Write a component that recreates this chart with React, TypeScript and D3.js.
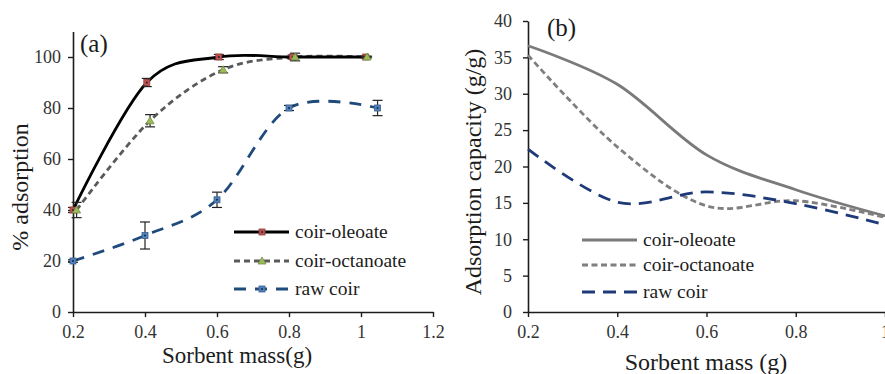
import React, { useEffect, useRef } from "react";
import * as d3 from "d3";

// panel (a): % adsorption vs sorbent mass, with error bars
const A_OLEOATE_X = [0.2, 0.405, 0.605, 0.81, 1.013];
const A_OLEOATE_Y = [40, 90, 100, 100, 100];
const A_OLEOATE_ERR = [1, 1.6, 1, 0.8, 0.3];

const A_OCTANOATE_X = [0.21, 0.414, 0.617, 0.817, 1.017];
const A_OCTANOATE_Y = [40, 75, 95, 100, 100];
const A_OCTANOATE_ERR = [3, 2.4, 1.2, 1.5, 0.3];

const A_RAW_X = [0.2, 0.4, 0.6, 0.8, 1.046];
const A_RAW_Y = [20, 30, 44, 80, 80];
const A_RAW_ERR = [0.5, 5.3, 3, 1, 3];

const A_X_TICKS = [0.2, 0.4, 0.6, 0.8, 1, 1.2];
const A_Y_TICKS = [0, 20, 40, 60, 80, 100];

// panel (b): adsorption capacity vs sorbent mass
const B_X = [0.2, 0.4, 0.6, 0.8, 1.0];
const B_OLEOATE = [36.6, 31.3, 21.6, 16.8, 13.2];
const B_OCTANOATE = [35.3, 22.7, 14.6, 15.3, 13.0];
const B_RAW = [22.4, 15.1, 16.5, 14.9, 12.0];

const B_X_TICKS = [0.2, 0.4, 0.6, 0.8, 1];
const B_Y_TICKS = [0, 5, 10, 15, 20, 25, 30, 35, 40];

const SERIES_NAMES = ["coir-oleoate", "coir-octanoate", "raw coir"];

const FONT = "Liberation Serif";
const INK = "#1c1c1c";

const App = () => {
  const ref = useRef<SVGSVGElement>(null);

  useEffect(() => {
    const svg = d3.select(ref.current);
    svg.selectAll("*").remove();

    const curve = d3.curveCardinal.tension(0);

    const styleAxis = (g: any) => {
      g.attr("font-family", null).attr("font-size", null);
      g.select(".domain").attr("stroke", INK).attr("stroke-width", 1.6);
      g.selectAll(".tick line").attr("stroke", INK).attr("stroke-width", 1.4);
      g.selectAll(".tick text")
        .attr("font-size", 18)
        .attr("fill", "#333");
    };

    // ---------- panel (a) ----------
    const xa = d3.scaleLinear().domain([0.2, 1.2]).range([73, 433]);
    const ya = d3.scaleLinear().domain([0, 110]).range([312, 31.5]);

    const pa = svg.append("g");

    pa.append("g")
      .attr("transform", `translate(0,${ya(0)})`)
      .call(
        d3.axisBottom(xa).tickValues(A_X_TICKS).tickSizeInner(5).tickSizeOuter(0)
          .tickPadding(8).tickFormat((d: any) => String(d))
      )
      .call(styleAxis);

    pa.append("g")
      .attr("transform", `translate(${xa(0.2)},0)`)
      .call(
        d3.axisLeft(ya).tickValues(A_Y_TICKS).tickSizeInner(5).tickSizeOuter(0)
          .tickPadding(7)
      )
      .call(styleAxis);

    const seriesA = [
      { x: A_OLEOATE_X, y: A_OLEOATE_Y, err: A_OLEOATE_ERR, stroke: "#000", dash: null, marker: "#c0504d", shape: "square" },
      { x: A_OCTANOATE_X, y: A_OCTANOATE_Y, err: A_OCTANOATE_ERR, stroke: "#5a5a5a", dash: "6,4", marker: "#9bbb59", shape: "triangle" },
      { x: A_RAW_X, y: A_RAW_Y, err: A_RAW_ERR, stroke: "#1f4a7c", dash: "12,9", marker: "#4f81bd", shape: "square" },
    ];

    const lineA = d3.line<[number, number]>()
      .x((d) => xa(d[0]))
      .y((d) => ya(d[1]))
      .curve(curve);

    // lines first, raw coir underneath
    [...seriesA].reverse().forEach((s) => {
      const pts = s.x.map((v, i) => [v, s.y[i]] as [number, number]);
      pa.append("path")
        .attr("d", lineA(pts))
        .attr("fill", "none")
        .attr("stroke", s.stroke)
        .attr("stroke-width", 2.8)
        .attr("stroke-dasharray", s.dash);
    });

    const drawMarker = (g: any, cx: number, cy: number, fill: string, shape: string) => {
      if (shape === "triangle") {
        g.append("path")
          .attr("d", `M${cx},${cy - 4}L${cx + 4},${cy + 3}L${cx - 4},${cy + 3}Z`)
          .attr("fill", fill)
          .attr("stroke", d3.color(fill)!.darker(0.8).toString())
          .attr("stroke-width", 0.8);
      } else {
        g.append("rect")
          .attr("x", cx - 3)
          .attr("y", cy - 3)
          .attr("width", 6)
          .attr("height", 6)
          .attr("fill", fill)
          .attr("stroke", d3.color(fill)!.darker(0.8).toString())
          .attr("stroke-width", 0.8);
        g.append("circle").attr("cx", cx).attr("cy", cy).attr("r", 1).attr("fill", "#1a2a44");
      }
    };

    seriesA.forEach((s) => {
      s.x.forEach((v, i) => {
        const cx = xa(v);
        const y0 = ya(s.y[i] - s.err[i]);
        const y1 = ya(s.y[i] + s.err[i]);
        const eb = pa.append("g").attr("stroke", "#222").attr("stroke-width", 1.2);
        eb.append("line").attr("x1", cx).attr("x2", cx).attr("y1", y0).attr("y2", y1);
        eb.append("line").attr("x1", cx - 5).attr("x2", cx + 5).attr("y1", y0).attr("y2", y0);
        eb.append("line").attr("x1", cx - 5).attr("x2", cx + 5).attr("y1", y1).attr("y2", y1);
        drawMarker(pa, cx, ya(s.y[i]), s.marker, s.shape);
      });
    });

    const label = (g: any, x: number, y: number, size: number, txt: string, anchor = "start") =>
      g.append("text")
        .attr("x", x)
        .attr("y", y)
        .attr("text-anchor", anchor)
        .attr("font-size", size)
        .attr("fill", INK)
        .text(txt);

    label(pa, 80, 52, 25, "(a)");
    label(pa, 237, 363, 23, "Sorbent mass(g)", "middle");
    label(pa, 0, 0, 24, "% adsorption", "middle").attr("transform", "translate(28,187) rotate(-90)");

    const LEG_A_Y = [232, 261, 289];
    seriesA.forEach((s, i) => {
      pa.append("line")
        .attr("x1", 234).attr("x2", 289)
        .attr("y1", LEG_A_Y[i]).attr("y2", LEG_A_Y[i])
        .attr("stroke", s.stroke)
        .attr("stroke-width", 2.8)
        .attr("stroke-dasharray", s.dash);
      drawMarker(pa, 262, LEG_A_Y[i], s.marker, s.shape);
      label(pa, 295, LEG_A_Y[i] + 6, 19.5, SERIES_NAMES[i]);
    });

    // ---------- panel (b) ----------
    const xb = d3.scaleLinear().domain([0.2, 1.0]).range([528, 885]);
    const yb = d3.scaleLinear().domain([0, 40]).range([312, 21]);

    const pb = svg.append("g");

    pb.append("g")
      .attr("transform", `translate(0,${yb(0)})`)
      .call(
        d3.axisBottom(xb).tickValues(B_X_TICKS).tickSizeInner(5).tickSizeOuter(0)
          .tickPadding(8).tickFormat((d: any) => String(d))
      )
      .call(styleAxis);

    pb.append("g")
      .attr("transform", `translate(${xb(0.2)},0)`)
      .call(
        d3.axisLeft(yb).tickValues(B_Y_TICKS).tickSizeInner(5).tickSizeOuter(0)
          .tickPadding(11)
      )
      .call(styleAxis);

    const seriesB = [
      { y: B_OLEOATE, stroke: "#7a7a7a", dash: null },
      { y: B_OCTANOATE, stroke: "#7f7f7f", dash: "6,3.5" },
      { y: B_RAW, stroke: "#1f3a78", dash: "13,8" },
    ];

    const lineB = d3.line<[number, number]>()
      .x((d) => xb(d[0]))
      .y((d) => yb(d[1]))
      .curve(curve);

    seriesB.forEach((s) => {
      const pts = B_X.map((v, i) => [v, s.y[i]] as [number, number]);
      pb.append("path")
        .attr("d", lineB(pts))
        .attr("fill", "none")
        .attr("stroke", s.stroke)
        .attr("stroke-width", 2.8)
        .attr("stroke-dasharray", s.dash);
    });

    label(pb, 547, 36, 25, "(b)");
    label(pb, 706, 370, 24, "Sorbent mass (g)", "middle");
    label(pb, 0, 0, 24, "Adsorption capacity (g/g)", "middle").attr("transform", "translate(481,172) rotate(-90)");

    const LEG_B_Y = [240, 265, 292];
    seriesB.forEach((s, i) => {
      pb.append("line")
        .attr("x1", 582).attr("x2", 637)
        .attr("y1", LEG_B_Y[i]).attr("y2", LEG_B_Y[i])
        .attr("stroke", s.stroke)
        .attr("stroke-width", 2.8)
        .attr("stroke-dasharray", s.dash);
      label(pb, 643, LEG_B_Y[i] + 6, 19.5, SERIES_NAMES[i]);
    });
  }, []);

  return (
    <svg
      ref={ref}
      width={885}
      height={374}
      style={{ position: "absolute", left: 0, top: 0, background: "#fff", fontFamily: FONT }}
    />
  );
};

export default App;
